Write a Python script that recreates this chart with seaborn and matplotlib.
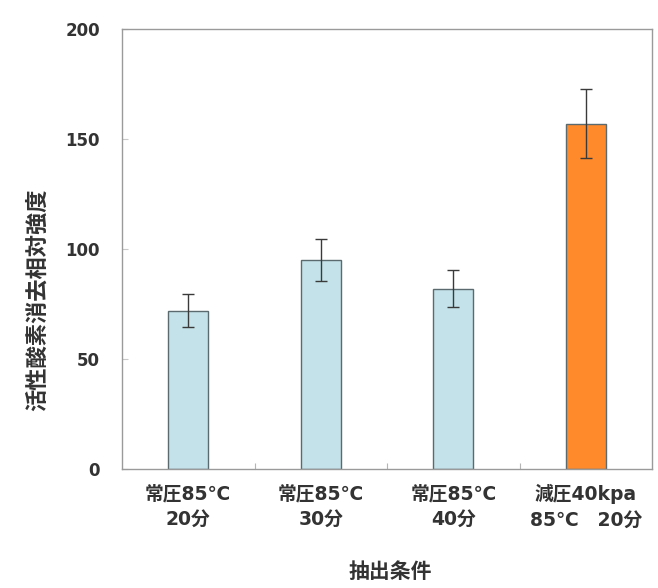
import matplotlib
matplotlib.use("Agg")
import matplotlib.pyplot as plt
import seaborn as sns
import pandas as pd
from matplotlib.ticker import FixedLocator

conditions = ["常圧85℃\n20分", "常圧85℃\n30分", "常圧85℃\n40分", "減圧40kpa\n85℃　20分"]
intensity = [72, 95, 82, 157]
errors = [7.5, 9.5, 8.5, 15.5]
bar_colors = ["#c4e2ea", "#c4e2ea", "#c4e2ea", "#ff8a2c"]

sns.set_theme(style="white")
plt.rcParams["font.family"] = ["Noto Sans CJK JP", "DejaVu Sans"]
mixed = ["DejaVu Sans", "Noto Sans CJK JP"]

df = pd.DataFrame({"condition": conditions, "intensity": intensity})

fig = plt.figure(figsize=(6.58, 5.88), dpi=100)
ax = fig.add_axes([0.1854, 0.2024, 0.8056, 0.7483])

sns.barplot(data=df, x="condition", y="intensity", hue="condition",
            palette=bar_colors, saturation=1, width=0.3,
            edgecolor="#5a6a6e", linewidth=1.0, legend=False, ax=ax)
ax.errorbar(range(len(conditions)), intensity, yerr=errors, fmt="none",
            ecolor="#3a3a3a", elinewidth=1.0, capsize=4, capthick=1.0)

ax.set_xlim(-0.5, len(conditions) - 0.5)
ax.set_ylim(0, 200)
ax.set_yticks([0, 50, 100, 150, 200])
for s in ax.spines.values():
    s.set_color("#9a9a9a")
    s.set_linewidth(1.0)

# faint inward ticks between categories and at y gridpoints
ax.xaxis.set_minor_locator(FixedLocator([0.5, 1.5, 2.5]))
ax.tick_params(axis="x", which="minor", direction="in", length=4, width=0.8,
               color="#b5b5b5", bottom=True)
ax.tick_params(axis="y", which="major", direction="in", length=4, width=0.8,
               color="#c8c8c8", left=True)

ax.tick_params(axis="y", labelsize=12, labelcolor="#333333", pad=16)
ax.tick_params(axis="x", which="major", labelsize=13.5, labelcolor="#333333", pad=11, length=0)
for lab in ax.get_yticklabels():
    lab.set_fontweight("bold")
    lab.set_family(mixed)
for lab in ax.get_xticklabels():
    lab.set_fontweight("bold")
    lab.set_family(mixed)
    lab.set_linespacing(1.45)

ax.set_xlabel("抽出条件", fontsize=15, fontweight="bold", color="#333333")
ax.xaxis.set_label_coords((390 - 122) / 530, -(561 - 469) / 440)
ax.set_ylabel("活性酸素消去相対強度", fontsize=16, fontweight="bold", color="#333333")
ax.yaxis.set_label_coords(-(122 - 49) / 530, (469 - 300) / 440)

fig.savefig("out.png", dpi=100, facecolor="white")
